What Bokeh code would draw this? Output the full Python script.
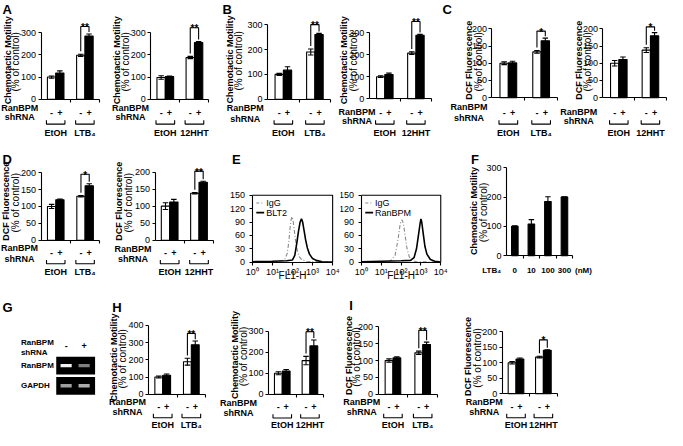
import math
import numpy as np
from bokeh.plotting import figure
from bokeh.layouts import column, row
from bokeh.models import Range1d, FixedTicker, AllLabels
from bokeh.core.properties import value
from bokeh.embed import file_html
from bokeh.resources import INLINE

# ---------------- data ----------------
shRNA_labels = ["-", "+"]
motility_ticks = [0, 100, 200, 300]
motility_ticks_H1 = [0, 100, 200, 300, 400]
dcf_ticks = [0, 50, 100, 150, 200]

A1_groups = ["EtOH", "LTB₄"]
A1_minus = [100, 198]
A1_minus_err = [5, 5]
A1_plus = [118, 285]
A1_plus_err = [10, 9]

A2_groups = ["EtOH", "12HHT"]
A2_minus = [98, 188]
A2_minus_err = [8, 5]
A2_plus = [102, 255]
A2_plus_err = [3, 5]

B1_groups = ["EtOH", "LTB₄"]
B1_minus = [100, 190]
B1_minus_err = [4, 12]
B1_plus = [117, 260]
B1_plus_err = [14, 5]

B2_groups = ["EtOH", "12HHT"]
B2_minus = [100, 207]
B2_minus_err = [4, 6]
B2_plus = [110, 288]
B2_plus_err = [6, 4]

C1_groups = ["EtOH", "LTB₄"]
C1_minus = [100, 133]
C1_minus_err = [4, 4]
C1_plus = [101, 165]
C1_plus_err = [5, 8]

C2_groups = ["EtOH", "12HHT"]
C2_minus = [100, 138]
C2_minus_err = [8, 7]
C2_plus = [111, 180]
C2_plus_err = [7, 9]

D1_groups = ["EtOH", "LTB₄"]
D1_minus = [100, 130]
D1_minus_err = [6, 2]
D1_plus = [120, 161]
D1_plus_err = [2, 6]

D2_groups = ["EtOH", "12HHT"]
D2_minus = [100, 138]
D2_minus_err = [10, 2]
D2_plus = [112, 170]
D2_plus_err = [8, 3]

F_doses = ["0", "10", "100", "300"]
F_motility = [100, 108, 185, 200]
F_err = [2, 15, 16, 0]

H1_groups = ["EtOH", "LTB₄"]
H1_minus = [100, 189]
H1_minus_err = [6, 20]
H1_plus = [110, 287]
H1_plus_err = [8, 22]

H2_groups = ["EtOH", "12HHT"]
H2_minus = [100, 160]
H2_minus_err = [7, 20]
H2_plus = [110, 230]
H2_plus_err = [8, 28]

I1_groups = ["EtOH", "LTB₄"]
I1_minus = [100, 123]
I1_minus_err = [5, 5]
I1_plus = [108, 148]
I1_plus_err = [3, 7]

I2_groups = ["EtOH", "12HHT"]
I2_minus = [100, 118]
I2_minus_err = [4, 3]
I2_plus = [112, 140]
I2_plus_err = [3, 2]

# flow cytometry histograms (FL1-H intensity, counts)
E_decades = [1, 10, 100, 1000, 10000]
E_decade_labels = ["10⁰", "10¹", "10²", "10³", "10⁴"]
E_count_ticks = [0, 30, 60, 90, 120, 150]

E1_igg_fl = [1, 5, 20, 40, 55, 65, 75, 85, 95, 105, 120, 140, 170, 220, 300, 500, 1000, 3000, 10000]
E1_igg_count = [0, 1, 2, 5, 20, 45, 75, 95, 102, 95, 75, 50, 28, 12, 5, 2, 1, 0, 0]
E1_blt2_fl = [1, 10, 50, 100, 130, 160, 200, 240, 280, 320, 380, 450, 550, 700, 1000, 1500, 3000, 10000]
E1_blt2_count = [1, 2, 3, 5, 15, 40, 70, 90, 97, 90, 70, 50, 32, 18, 8, 4, 1, 0]

E2_igg_fl = [1, 10, 30, 50, 70, 90, 110, 130, 160, 200, 260, 350, 600, 10000]
E2_igg_count = [0, 1, 3, 15, 50, 85, 95, 88, 60, 30, 12, 4, 1, 0]
E2_ranbpm_fl = [1, 10, 100, 300, 450, 600, 750, 900, 1000, 1100, 1300, 1600, 2000, 3000, 5000, 10000]
E2_ranbpm_count = [1, 2, 3, 4, 10, 30, 60, 85, 97, 90, 65, 35, 18, 6, 2, 0]

# gel
G_lanes = ["-", "+"]
G_genes = ["RanBPM", "GAPDH"]
G_RanBPM_band = [0.95, 0.5]
G_GAPDH_band = [0.62, 0.68]

# ---------------- helpers ----------------
FONT = "Liberation Sans"
SX = 667 / 683
SY = 430 / 446
LW = 1.1
IGG_COLOR = "#8a8a8a"
IGG_DASH = "4 2 1 2"


def fw(a, b):
    return round(b * SX) - round(a * SX)


def fh(a, b):
    return round(b * SY) - round(a * SY)


def base_fig(box, rows, xr, yr, **kw):
    p = figure(width=fw(*box), height=fh(*rows), x_range=xr, y_range=yr,
               output_backend="svg", toolbar_location=None,
               min_border_left=0, min_border_right=0, min_border_top=0, min_border_bottom=0, **kw)
    p.background_fill_color = "white"
    p.border_fill_color = "white"
    p.outline_line_color = None
    p.grid.visible = False
    return p


def txt(p, xs, ys, ss, size, bold=True, align="center", baseline="middle", angle=0.0, color="black"):
    p.text(x=list(xs), y=list(ys), text=list(ss), text_font=value(FONT),
           text_font_size=value(size), text_font_style="bold" if bold else "normal",
           text_align=align, text_baseline=baseline, angle=angle, text_color=color)


def style_axis(ax, size="9px"):
    ax.axis_line_width = LW
    ax.major_tick_line_width = LW
    ax.major_tick_out = 3
    ax.major_tick_in = 0
    ax.minor_tick_line_color = None
    ax.major_label_text_font = FONT
    ax.major_label_text_font_size = size
    ax.major_label_text_color = "black"
    ax.major_label_standoff = 2
    ax.major_label_policy = AllLabels()


def bar_chart(c, groups, minus, minus_err, plus=None, plus_err=None, sig=None):
    bx0, bx1 = c["box"]
    ry0, ry1 = c["rows"]
    axx, axe = c["ax"]
    ng = len(groups)
    gw = (axe - axx) / ng
    ppu = (c["y0"] - c["ytop"]) / c["ymax"]

    def X(px):
        return (px - axx) / gw

    def Y(py):
        return (c["y0"] - py) / ppu

    p = base_fig(c["box"], c["rows"], Range1d(X(bx0), X(bx1)), Range1d(Y(ry1), Y(ry0)))
    p.xaxis.fixed_location = 0
    p.yaxis.fixed_location = 0
    p.yaxis.bounds = (0, c["ymax"])
    p.yaxis.ticker = FixedTicker(ticks=c["yticks"])
    p.xaxis.bounds = (0, ng)
    xt = list(range(1, ng + 1))
    p.xaxis.ticker = FixedTicker(ticks=xt)
    style_axis(p.yaxis)
    style_axis(p.xaxis)
    p.xaxis.major_label_overrides = {t: "" for t in xt}

    gc = np.arange(ng) + 0.5
    bw = c["bar"] / gw
    cap = 2.8 / gw
    if plus is None:
        sets = [(gc, minus, minus_err, "black")]
    else:
        sets = [(gc - bw / 2, minus, minus_err, "white"), (gc + bw / 2, plus, plus_err, "black")]
    for xs, v, e, col in sets:
        p.vbar(x=xs, top=v, bottom=0, width=bw, fill_color=col, line_color="black", line_width=LW)
    for xs, v, e, col in sets:
        v = np.array(v, float)
        e = np.array(e, float)
        p.segment(x0=xs, y0=v - e, x1=xs, y1=v + e, line_color="black", line_width=LW)
        p.segment(x0=xs - cap, y0=v + e, x1=xs + cap, y1=v + e, line_color="black", line_width=LW)
        p.segment(x0=xs - cap, y0=v - e, x1=xs + cap, y1=v - e, line_color="black", line_width=LW)

    if sig:
        wx = sets[0][0][-1]
        kx = sets[1][0][-1]
        lb = minus[-1] + minus_err[-1] + 3 / ppu
        rb = plus[-1] + plus_err[-1] + 2 / ppu
        top = Y(c["br"])
        p.line(x=[wx, wx, kx, kx], y=[lb, top, top, rb], line_color="black", line_width=LW)
        txt(p, [(wx + kx) / 2], [Y(c["br"] + 1)], [sig], "10px", baseline="alphabetic")

    t1, x1, x2, cy = c["ylab"]
    txt(p, [X(x1)], [Y(cy)], [t1], "9px", angle=math.pi / 2)
    txt(p, [X(x2)], [Y(cy + 1.5)], ["(% of control)"], "10px", bold=False, angle=math.pi / 2)

    if c.get("letter"):
        s, lx, ly = c["letter"]
        txt(p, [X(lx)], [Y(ly)], [s], "13px", align="left", baseline="top")

    gsize = c.get("gsize", "9px")
    if "rb" in c:
        rx, ry, shy = c["rb"]
        txt(p, [X(rx)] * 2, [Y(ry), Y(shy)], ["RanBPM", "shRNA"], "9px")
        xs_all = list(sets[0][0]) + list(sets[1][0])
        labs = [shRNA_labels[0]] * ng + [shRNA_labels[1]] * ng
        txt(p, xs_all, [Y(c["pm"])] * len(xs_all), labs, "9px")
        half = 9.5 / gw
        b = c["brk"]
        p.multi_line(xs=[[g - half, g - half, g + half, g + half] for g in gc],
                     ys=[[Y(b - 4), Y(b), Y(b), Y(b - 4)] for g in gc],
                     line_color="black", line_width=LW)
    txt(p, gc, [Y(c["grp"])] * ng, groups, gsize)
    for s, ex, ey in c.get("extra", []):
        txt(p, [X(ex)], [Y(ey)], [s], gsize)
    return p


def flow_panel(c, igg_x, igg_y, pos_x, pos_y, pos_label):
    bx0, bx1 = c["box"]
    ry0, ry1 = c["rows"]
    fx0, fx1 = c["fx"]
    ft, fb = c["fy"]
    dec = [float(v) for v in np.log10(E_decades)]
    L0, L1 = dec[0], dec[-1]
    ymin, ymax = E_count_ticks[0], E_count_ticks[-1]
    split = fx0 - 7

    def LX(px):
        return L0 + (px - fx0) / (fx1 - fx0) * (L1 - L0)

    def Y(py):
        return ymin + (fb - py) / (fb - ft) * (ymax - ymin)

    yr = (Y(ry1), Y(ry0))
    # left strip: count labels and panel letter
    lab = base_fig((bx0, split), c["rows"], Range1d(LX(bx0), LX(split)), Range1d(*yr),
                   x_axis_location=None, y_axis_location=None)
    txt(lab, [LX(fx0 - 7.5)] * len(E_count_ticks), E_count_ticks, [str(t) for t in E_count_ticks],
        "9px", bold=False, align="right")
    if c.get("letter"):
        s, lx, ly = c["letter"]
        txt(lab, [LX(lx)], [Y(ly)], [s], "13px", align="left", baseline="top")

    p = base_fig((split, bx1), c["rows"], Range1d(LX(split), LX(bx1)), Range1d(*yr))
    p.line(x=[L0, L1, L1], y=[ymax, ymax, ymin], line_color="black", line_width=LW)
    p.line(np.log10(igg_x), igg_y, line_color=IGG_COLOR, line_width=1.1, line_dash=IGG_DASH)
    p.line(np.log10(pos_x), pos_y, line_color="black", line_width=1.6)
    p.xaxis.fixed_location = 0
    p.yaxis.fixed_location = 0
    p.xaxis.bounds = (L0, L1)
    p.yaxis.bounds = (ymin, ymax)
    p.xaxis.ticker = FixedTicker(ticks=dec)
    p.yaxis.ticker = FixedTicker(ticks=E_count_ticks)
    style_axis(p.xaxis)
    style_axis(p.yaxis)
    p.xaxis.major_label_overrides = {d: lab_ for d, lab_ in zip(dec, E_decade_labels)}
    p.yaxis.major_label_overrides = {t: "" for t in E_count_ticks}
    kx0, kx1, kt = LX(fx0 + 4), LX(fx0 + 12), LX(fx0 + 14)
    ky = [Y(ft + 8), Y(ft + 18)]
    p.line(x=[kx0, kx1], y=[ky[0]] * 2, line_color=IGG_COLOR, line_width=1.1, line_dash="3 2 1 2")
    p.line(x=[kx0, kx1], y=[ky[1]] * 2, line_color="black", line_width=1.6)
    txt(p, [kt, kt], ky, ["IgG", pos_label], "9px", bold=False, align="left")
    txt(p, [(L0 + L1) / 2], [Y(285)], ["FL1-H"], "10px", bold=False)
    return row(lab, p, spacing=0)


def gel_fig(c):
    lx0, lsp = c["lane"]
    gy0, gsp = c["gene"]
    bx0, bx1 = c["box"]
    ry0, ry1 = c["rows"]

    def X(px):
        return (px - lx0) / lsp

    def Y(py):
        return (py - gy0) / gsp

    p = base_fig(c["box"], c["rows"], Range1d(X(bx0), X(bx1)), Range1d(Y(ry1), Y(ry0)),
                 x_axis_location=None, y_axis_location=None)
    nl = len(G_lanes)
    rows_idx = list(range(len(G_genes)))
    p.rect(x=[(nl - 1) / 2 + 0.03] * len(G_genes), y=rows_idx, width=nl + 0.16, height=0.88,
           fill_color="black", line_color=None)
    xs, ys, cols = [], [], []
    for gi, band in enumerate([G_RanBPM_band, G_GAPDH_band]):
        for li, inten in enumerate(band):
            g = int(round(255 * inten))
            xs.append(li)
            ys.append(gi)
            cols.append("#%02x%02x%02x" % (g, g, g))
    p.rect(x=xs, y=ys, width=0.62, height=0.17, fill_color=cols, line_color=None)
    lx = c["labx"]
    txt(p, [X(lx)] * 2, [Y(c["hdr"][0]), Y(c["hdr"][1])], ["RanBPM", "shRNA"], "8px", align="left")
    txt(p, list(range(nl)), [Y(c["pm"])] * nl, G_lanes, "9px")
    txt(p, [X(lx)] * len(G_genes), rows_idx, G_genes, "8px", align="left")
    s, gx, gy = c["letter"]
    txt(p, [X(gx)], [Y(gy)], [s], "13px", align="left", baseline="top")
    return p


# ---------------- layout parameters (reference pixels) ----------------
R1 = (0, 145)
R2 = (145, 290)
R3 = (290, 446)
MOT = "Chemotactic Motility"
DCF = "DCF Fluorescence"

cA1 = dict(box=(0, 112), rows=R1, ax=(41.7, 101.7), y0=102.3, ytop=33.3, ymax=300, yticks=motility_ticks,
           bar=8.5, ylab=(MOT, 7.3, 15.7, 62), rb=(19.7, 111, 121), pm=116, brk=128, grp=137.5, br=27,
           letter=("A", 2, 2))
cA2 = dict(box=(112, 224), rows=R1, ax=(154, 213.3), y0=102.3, ytop=33.3, ymax=300, yticks=motility_ticks,
           bar=8.5, ylab=(MOT, 120, 128.3, 62), rb=(133.5, 111, 121), pm=116.5, brk=128, grp=137.5, br=28.3)
cB1 = dict(box=(224, 345), rows=R1, ax=(273.3, 338), y0=102.3, ytop=25, ymax=300, yticks=motility_ticks,
           bar=8.5, ylab=(MOT, 235, 243.3, 61), rb=(250.5, 111, 122.5), pm=116.5, brk=128, grp=137.5, br=25,
           letter=("B", 227, 2))
cB2 = dict(box=(345, 450), rows=R1, ax=(377.7, 441.7), y0=101.7, ytop=33.3, ymax=300, yticks=motility_ticks,
           bar=8.5, ylab=(MOT, 351.7, 361, 62), rb=(365, 115, 125), pm=117, brk=128, grp=137.5, br=21.7)
cC1 = dict(box=(450, 572), rows=R1, ax=(503.3, 570), y0=100.7, ytop=29.3, ymax=200, yticks=dcf_ticks,
           bar=8.5, ylab=(DCF, 480, 490, 62), rb=(480, 110, 121.7), pm=117, brk=128, grp=137.5, br=31.7,
           letter=("C", 453, 2))
cC2 = dict(box=(572, 683), rows=R1, ax=(616.7, 681.7), y0=100.7, ytop=29.3, ymax=200, yticks=dcf_ticks,
           bar=8.5, ylab=(DCF, 591.7, 600.7, 62), rb=(591.7, 115, 125), pm=117, brk=128, grp=137.5, br=27.3)

cD1 = dict(box=(0, 112), rows=R2, ax=(41.7, 102), y0=248.3, ytop=178.3, ymax=200, yticks=dcf_ticks,
           bar=8.5, ylab=(DCF, 5.5, 15, 208), rb=(19.5, 256.7, 267.7), pm=262, brk=272.7, grp=281, br=180,
           letter=("D", 2, 157))
cD2 = dict(box=(112, 228), rows=R2, ax=(158.3, 218), y0=248.3, ytop=177.7, ymax=200, yticks=dcf_ticks,
           bar=8.5, ylab=(DCF, 121.7, 131.7, 208), rb=(136, 257.7, 268), pm=262, brk=272.7, grp=281, br=176.7)
cE1 = dict(box=(228, 348), rows=R2, fx=(258.3, 340), fy=(201.7, 271), letter=("E", 237, 157))
cE2 = dict(box=(348, 464), rows=R2, fx=(370, 451), fy=(201.7, 271))
cF = dict(box=(464, 683), rows=R2, ax=(518.3, 586), y0=264.3, ytop=173.3, ymax=300, yticks=motility_ticks,
          bar=6.7, ylab=(MOT, 485, 495, 218), grp=280, gsize="8px", letter=("F", 482, 157),
          extra=[("LTB₄", 503, 280), ("(nM)", 597, 280)])

cG = dict(box=(0, 108), rows=R3, lane=(67.5, 18.5), gene=(378.5, 21), labx=21, hdr=(354, 365), pm=358,
          letter=("G", 2, 310))
cH1 = dict(box=(108, 218), rows=R3, ax=(151.7, 210), y0=408.3, ytop=336.7, ymax=400, yticks=motility_ticks_H1,
           bar=8, ylab=(MOT, 116.7, 125, 370), rb=(130.5, 416.7, 426.7), pm=421.7, brk=432.7, grp=440, br=345,
           letter=("H", 115, 310))
cH2 = dict(box=(218, 342), rows=R3, ax=(274.3, 331), y0=408.3, ytop=342.7, ymax=300, yticks=motility_ticks,
           bar=8, ylab=(MOT, 240, 248.3, 367.5), rb=(243.5, 417.3, 427.3), pm=421.7, brk=433, grp=440.5, br=343.3)
cI1 = dict(box=(342, 462), rows=R3, ax=(386.7, 447.7), y0=408.3, ytop=338.3, ymax=200, yticks=dcf_ticks,
           bar=8, ylab=(DCF, 356.7, 365, 368), rb=(370, 416.7, 426.7), pm=421.7, brk=432.7, grp=440, br=341.7,
           letter=("I", 357, 308))
cI2 = dict(box=(462, 683), rows=R3, ax=(514, 570), y0=407.7, ytop=343.3, ymax=200, yticks=dcf_ticks,
           bar=8, ylab=(DCF, 479.3, 488.3, 369), rb=(495.5, 416.7, 426.7), pm=421.7, brk=432.7, grp=440, br=351.7)

# ---------------- build ----------------
row1 = row(
    bar_chart(cA1, A1_groups, A1_minus, A1_minus_err, A1_plus, A1_plus_err, "**"),
    bar_chart(cA2, A2_groups, A2_minus, A2_minus_err, A2_plus, A2_plus_err, "**"),
    bar_chart(cB1, B1_groups, B1_minus, B1_minus_err, B1_plus, B1_plus_err, "**"),
    bar_chart(cB2, B2_groups, B2_minus, B2_minus_err, B2_plus, B2_plus_err, "**"),
    bar_chart(cC1, C1_groups, C1_minus, C1_minus_err, C1_plus, C1_plus_err, "*"),
    bar_chart(cC2, C2_groups, C2_minus, C2_minus_err, C2_plus, C2_plus_err, "*"),
    spacing=0,
)
row2 = row(
    bar_chart(cD1, D1_groups, D1_minus, D1_minus_err, D1_plus, D1_plus_err, "*"),
    bar_chart(cD2, D2_groups, D2_minus, D2_minus_err, D2_plus, D2_plus_err, "**"),
    flow_panel(cE1, E1_igg_fl, E1_igg_count, E1_blt2_fl, E1_blt2_count, "BLT2"),
    flow_panel(cE2, E2_igg_fl, E2_igg_count, E2_ranbpm_fl, E2_ranbpm_count, "RanBPM"),
    bar_chart(cF, F_doses, F_motility, F_err),
    spacing=0,
)
row3 = row(
    gel_fig(cG),
    bar_chart(cH1, H1_groups, H1_minus, H1_minus_err, H1_plus, H1_plus_err, "**"),
    bar_chart(cH2, H2_groups, H2_minus, H2_minus_err, H2_plus, H2_plus_err, "**"),
    bar_chart(cI1, I1_groups, I1_minus, I1_minus_err, I1_plus, I1_plus_err, "**"),
    bar_chart(cI2, I2_groups, I2_minus, I2_minus_err, I2_plus, I2_plus_err, "*"),
    spacing=0,
)
layout = column(row1, row2, row3, spacing=0)

open("out.html", "w").write(file_html(layout, INLINE))
